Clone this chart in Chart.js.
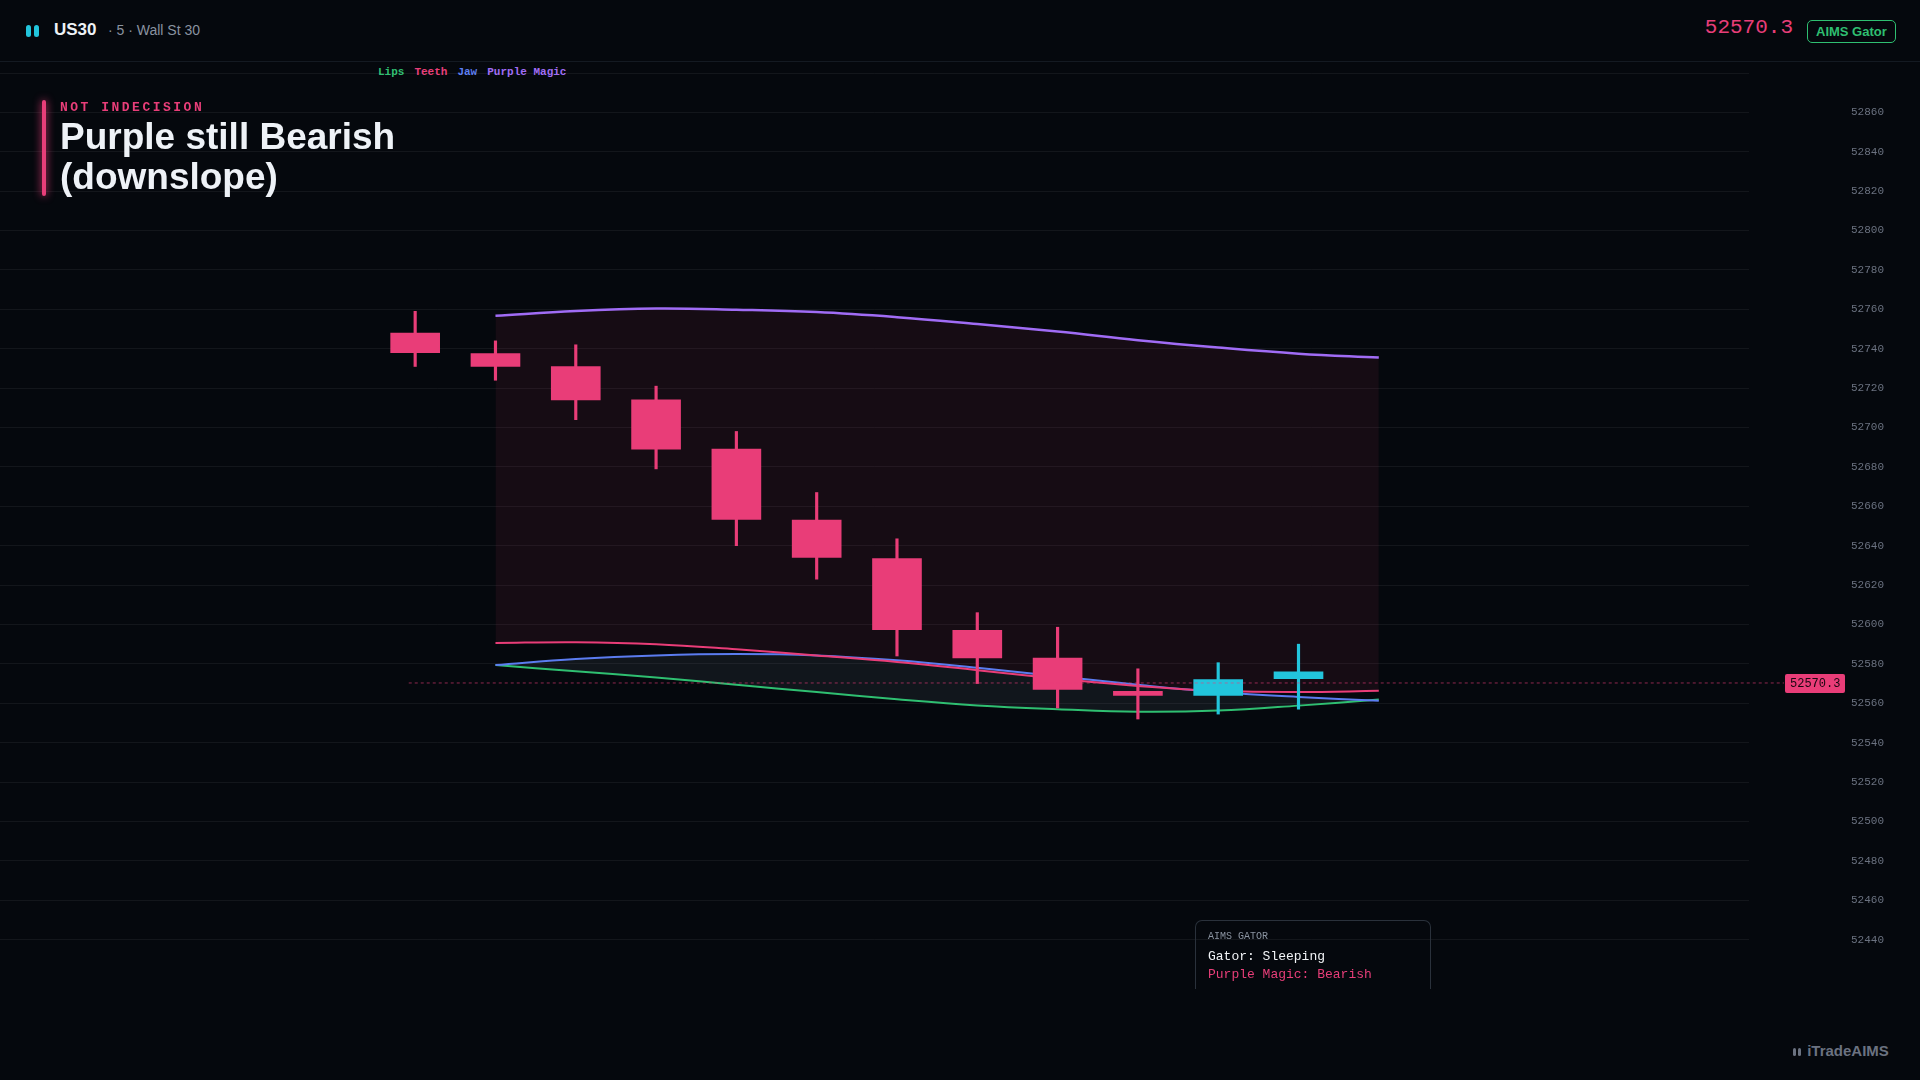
<!DOCTYPE html>
<html>
<head>
<meta charset="utf-8">
<script src="https://cdn.jsdelivr.net/npm/chart.js@4.4.0/dist/chart.umd.min.js"></script>
<style>
  html, body { margin: 0; padding: 0; background: #05080d; width: 1920px; height: 1080px; overflow: hidden; font-family: "Liberation Sans", Arial, sans-serif; }
  #wrap { position: absolute; left: 0; top: 0; width: 1920px; height: 1080px; }
  #chart { position: absolute; left: 0; top: 73px; width: 1920px; height: 906px; }
  .header { position: absolute; left: 0; top: 0; width: 1920px; height: 61px; border-bottom: 1px solid #141a22; }
  .logo { position: absolute; left: 26px; top: 23px; }
  .logo span { display: inline-block; width: 5px; height: 12px; border-radius: 3px; background: #22c5dc; margin-right: 3px; }
  .sym { position: absolute; left: 54px; top: 20px; color: #eef2f7; font-weight: bold; font-size: 17px; }
  .sub { position: absolute; left: 108px; top: 22px; color: #8a93a0; font-size: 14px; }
  .price { position: absolute; right: 127px; top: 16px; color: #e83e79; font-family: "Liberation Mono", monospace; font-size: 21px; }
  .badge { position: absolute; left: 1807px; top: 20px; border: 1.5px solid #2fbf71; border-radius: 5px; color: #2fbf71; font-weight: bold; font-size: 13px; padding: 3px 8px; }
  .legend { position: absolute; left: 378px; top: 66px; font-family: "Liberation Mono", monospace; font-weight: bold; font-size: 11px; }
  .legend span { margin-right: 10px; }
  .bar { position: absolute; left: 42px; top: 100px; width: 4px; height: 96px; background: #e83e79; box-shadow: 0 0 8px #e83e79; border-radius: 2px; }
  .kicker { position: absolute; left: 60px; top: 100px; color: #e83e79; font-family: "Liberation Mono", monospace; font-weight: bold; font-size: 13px; letter-spacing: 2.5px; }
  .title { position: absolute; left: 60px; top: 117px; color: #eef2f7; font-weight: bold; font-size: 37px; line-height: 40px; }
  .info { position: absolute; left: 1195px; top: 920px; width: 234px; height: 68px; border: 1px solid #2a313b; border-bottom: none; border-radius: 7px 7px 0 0; font-family: "Liberation Mono", monospace; }
  .info .h { position: absolute; left: 12px; top: 10px; color: #8a93a0; font-size: 10px; }
  .info .a { position: absolute; left: 12px; top: 28px; color: #f2f4f7; font-size: 13px; }
  .info .b { position: absolute; left: 12px; top: 46px; color: #e83e79; font-size: 13px; }
  .foot { position: absolute; left: 1793px; top: 1042px; color: #6b7280; font-weight: bold; font-size: 15px; }
  .foot i { display: inline-block; width: 3px; height: 8px; background: #6b7280; border-radius: 2px; margin-right: 2px; }
</style>
</head>
<body>
<div id="wrap">
  <div class="header">
    <div class="logo"><span></span><span></span></div>
    <div class="sym">US30</div>
    <div class="sub">· 5 · Wall St 30</div>
    <div class="price">52570.3</div>
    <div class="badge">AIMS Gator</div>
  </div>
  <div class="legend"><span style="color:#2fbf71">Lips</span><span style="color:#e83e79">Teeth</span><span style="color:#5b7cf0">Jaw</span><span style="color:#a06cf5">Purple Magic</span></div>
  <canvas id="chart" width="1920" height="906"></canvas>
  <div class="bar"></div>
  <div class="kicker">NOT INDECISION</div>
  <div class="title">Purple still Bearish<br>(downslope)</div>
  <div class="info"><div class="h">AIMS GATOR</div><div class="a">Gator: Sleeping</div><div class="b">Purple Magic: Bearish</div></div>
  <div class="foot"><i></i><i></i> iTradeAIMS</div>
</div>
<script>
// Candles (bar index 0..11)
const opens  = [52748, 52737.5, 52731, 52714, 52689, 52653, 52633.5, 52597, 52583, 52566, 52564, 52572.5];
const closes = [52738, 52731, 52714, 52689, 52653.4, 52634, 52597.4, 52583, 52567, 52564, 52572, 52576];
const highs  = [52759, 52744, 52742, 52721, 52698, 52667, 52643.5, 52606, 52598.6, 52577.5, 52580.6, 52590];
const lows   = [52731, 52724, 52704, 52679, 52640, 52623, 52584, 52570, 52557.6, 52552, 52554.5, 52557];

// Indicator lines (bar index 1..12)
const lineIdx = [1, 2, 3, 4, 5, 6, 7, 8, 9, 10, 11, 12];
const purple = [52756.7, 52759.2, 52760.4, 52759.8, 52758.6, 52756, 52752.5, 52748.7, 52744.3, 52740.6, 52737.5, 52735.5];
const teeth  = [52590.6, 52591, 52590, 52587.4, 52584.3, 52581, 52576.8, 52572.5, 52568.8, 52566.3, 52565.7, 52566.3];
const jaw    = [52579.4, 52582.5, 52584.3, 52585, 52584.3, 52581.8, 52578, 52573.7, 52569.4, 52565.7, 52563.2, 52561.3];
const lips   = [52579.4, 52576.2, 52573.1, 52569.4, 52565.7, 52562, 52558.9, 52557, 52555.7, 52556.3, 52558.8, 52561.9];

const lastPrice = 52570.3;
const yMin = 52420, yMax = 52880, yStep = 20;
const labelMin = 52440, labelMax = 52860;

const BEAR = '#e93d78', BULL = '#22c5dc';
const colorsFor = opens.map((o, i) => closes[i] >= o ? BULL : BEAR);
const pts = arr => arr.map((v, i) => ({ x: lineIdx[i], y: v }));

// price labels and last price tag on the right
const overlayPlugin = {
    id: 'overlay',
    afterDatasetsDraw(chart) {
        const ctx = chart.ctx;
        const ys = chart.scales.y;
        ctx.save();
        ctx.fillStyle = '#6b7280';
        ctx.font = '11px "Liberation Mono", monospace';
        ctx.textBaseline = 'middle';
        ys.ticks.forEach(t => {
            if (t.value >= labelMin && t.value <= labelMax) {
                ctx.fillText(String(t.value), 1851, ys.getPixelForValue(t.value));
            }
        });
        const y = ys.getPixelForValue(lastPrice);
        const x0 = chart.scales.x.getPixelForValue(-0.08);
        ctx.strokeStyle = 'rgba(233,61,120,0.6)';
        ctx.setLineDash([3, 3]);
        ctx.lineWidth = 1;
        ctx.beginPath();
        ctx.moveTo(x0, y);
        ctx.lineTo(1784, y);
        ctx.stroke();
        ctx.setLineDash([]);
        ctx.fillStyle = '#e93d78';
        ctx.beginPath();
        ctx.roundRect(1785, y - 9, 60, 19, 2);
        ctx.fill();
        ctx.fillStyle = '#1a0610';
        ctx.font = '12px "Liberation Mono", monospace';
        ctx.fillText(lastPrice.toFixed(1), 1790, y + 1);
        ctx.restore();
    }
};

new Chart(document.getElementById('chart'), {
    type: 'bar',
    data: {
        datasets: [
            {
                type: 'line', label: 'Purple Magic', data: pts(purple),
                borderColor: '#a06cf5', borderWidth: 2.5, pointRadius: 0, tension: 0.4,
                fill: { target: 1 }, backgroundColor: 'rgba(233,61,120,0.08)', order: 5
            },
            {
                type: 'line', label: 'Teeth', data: pts(teeth),
                borderColor: '#e93d78', borderWidth: 2, pointRadius: 0, tension: 0.4, fill: false, order: 3
            },
            {
                type: 'line', label: 'Jaw', data: pts(jaw),
                borderColor: '#5b7cf0', borderWidth: 2, pointRadius: 0, tension: 0.4, fill: false, order: 3
            },
            {
                type: 'line', label: 'Lips', data: pts(lips),
                borderColor: '#2fbf71', borderWidth: 2, pointRadius: 0, tension: 0.4,
                fill: { target: 2 }, backgroundColor: 'rgba(148,163,184,0.09)', order: 3
            },
            {
                label: 'wicks', data: highs.map((h, i) => ({ x: i, y: [lows[i], h] })),
                backgroundColor: colorsFor, barThickness: 2.5, grouped: false, order: 2
            },
            {
                label: 'bodies', data: opens.map((o, i) => ({ x: i, y: [o, closes[i]] })),
                backgroundColor: colorsFor, barThickness: 49, grouped: false, order: 1
            }
        ]
    },
    options: {
        responsive: false,
        animation: false,
        devicePixelRatio: 1,
        layout: { padding: 0 },
        plugins: { legend: { display: false }, tooltip: { enabled: false } },
        scales: {
            x: {
                type: 'linear', min: -5.17, max: 16.61, display: false,
                offset: false, bounds: 'data', grid: { offset: false }
            },
            y: {
                type: 'linear', position: 'right', min: yMin, max: yMax,
                beginAtZero: false, grace: 0, bounds: 'data',
                afterFit(scale) { scale.width = 171; },
                grid: { color: 'rgba(255,255,255,0.06)', drawTicks: false },
                border: { display: false },
                ticks: { stepSize: yStep, display: false }
            }
        }
    },
    plugins: [overlayPlugin]
});
</script>
</body>
</html>
